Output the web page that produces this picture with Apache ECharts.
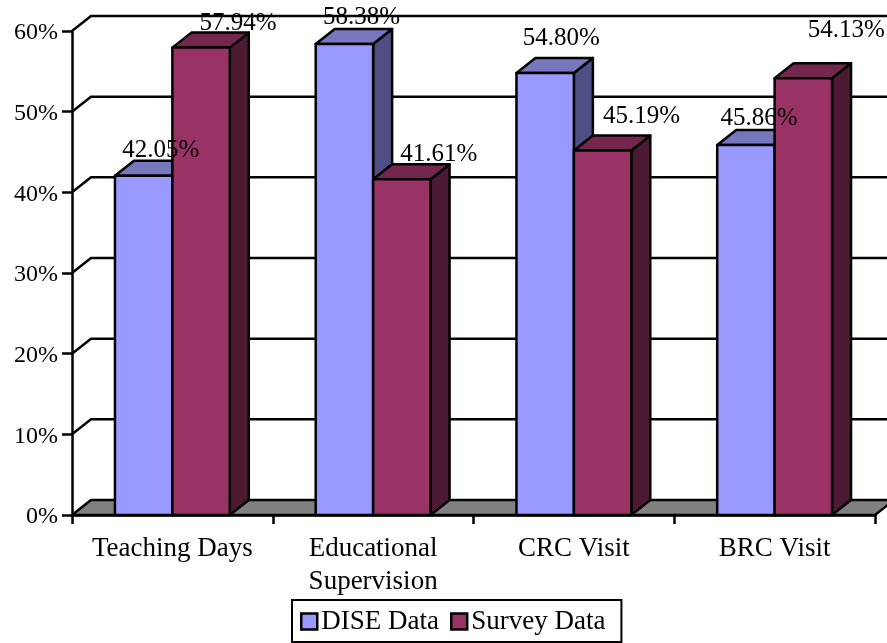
<!DOCTYPE html>
<html lang="en">
<head>
    <meta charset="UTF-8">
    <script src="https://cdn.jsdelivr.net/npm/echarts@6/dist/echarts.min.js"></script>
    <style>
        html, body { margin: 0; padding: 0; background: #fff; }
        #chart { width: 887px; height: 643px; }
    </style>
</head>
<body>
<div id="chart"></div>
<script>
    var categories = ['Teaching Days', 'Educational\nSupervision', 'CRC Visit', 'BRC Visit'];
    var diseData = [42.05, 58.38, 54.80, 45.86];
    var surveyData = [57.94, 41.61, 45.19, 54.13];
    var yTicks = [0, 10, 20, 30, 40, 50, 60];

    // label position relative to the bar's front top centre, as placed in the picture
    var diseNudge = [[17, -25], [17, -27], [16, -35], [13, -27]];
    var surveyNudge = [[37, -24], [37, -25], [39, -34], [43, -48]];

    var FONT = '"Liberation Serif", serif';
    var DX = 19, DY = 15; // depth of the 3d box
    var BAR = 0.286; // bar width as part of the category band
    var LW = 2.5;

    var myChart = echarts.init(document.getElementById('chart'), null, {renderer: 'canvas'});

    function pts(list, fill) {
        return {
            type: 'polygon',
            shape: {points: list},
            style: {fill: fill, stroke: '#000', lineWidth: LW, lineJoin: 'round'}
        };
    }

    // back wall line + the short diagonal to the left axis
    function renderWall(params, api) {
        var cs = params.coordSys;
        var y = api.coord([0, api.value(1)])[1];
        return {
            type: 'polyline',
            shape: {points: [[cs.x, y], [cs.x + DX, y - DY], [cs.x + cs.width + DX, y - DY]]},
            style: {fill: null, stroke: '#000', lineWidth: LW}
        };
    }

    function renderFloor(params, api) {
        var cs = params.coordSys;
        var y = api.coord([0, 0])[1];
        return pts([[cs.x, y], [cs.x + DX, y - DY], [cs.x + cs.width + DX, y - DY], [cs.x + cs.width, y]], '#808080');
    }

    function barLeft(side, api) {
        var p = api.coord([api.value(0), api.value(1)]);
        var w = api.size([1, 0])[0] * BAR;
        return {x: side < 0 ? p[0] - w : p[0], y: p[1], w: w};
    }

    function makeBar(side, front, top, dark) {
        return function (params, api) {
            var b = barLeft(side, api);
            var y0 = api.coord([api.value(0), 0])[1];
            var x = b.x, y = b.y, w = b.w;
            return {
                type: 'group',
                children: [
                    pts([[x + w, y], [x + w + DX, y - DY], [x + w + DX, y0 - DY], [x + w, y0]], dark),
                    pts([[x, y], [x + DX, y - DY], [x + w + DX, y - DY], [x + w, y]], top),
                    pts([[x, y], [x + w, y], [x + w, y0], [x, y0]], front)
                ]
            };
        };
    }

    // value labels sit in their own series, above every bar
    function makeLabel(side, nudge) {
        return function (params, api) {
            var b = barLeft(side, api);
            var n = nudge[params.dataIndex];
            return {
                type: 'text',
                style: {
                    text: api.value(1).toFixed(2) + '%',
                    x: b.x + b.w / 2 + n[0],
                    y: b.y + n[1],
                    fill: '#000',
                    font: '25px ' + FONT,
                    textAlign: 'center',
                    textVerticalAlign: 'middle'
                }
            };
        };
    }

    function pairs(values) {
        return values.map(function (v, i) { return [i, v]; });
    }

    var option = {
        animation: false,
        backgroundColor: '#fff',
        grid: {left: 72, right: 12, top: 31, bottom: 128},
        legend: {
            data: ['DISE Data', 'Survey Data'],
            left: 292,
            top: 600,
            orient: 'horizontal',
            icon: 'rect',
            itemWidth: 16,
            itemHeight: 16,
            itemGap: 11,
            padding: [8, 16, 7, 8],
            borderColor: '#000',
            borderWidth: 2,
            backgroundColor: '#fff',
            itemStyle: {borderColor: '#000', borderWidth: 2.5},
            textStyle: {color: '#000', fontFamily: FONT, fontSize: 27, padding: [0, 0, 0, -1]}
        },
        xAxis: {
            type: 'category',
            data: categories,
            axisLine: {lineStyle: {color: '#000', width: LW}},
            axisTick: {show: true, length: 9, lineStyle: {color: '#000', width: LW}},
            axisLabel: {color: '#000', fontFamily: FONT, fontSize: 27, lineHeight: 33, margin: 17, interval: 0}
        },
        yAxis: {
            type: 'value',
            min: 0,
            max: 60,
            interval: 10,
            splitLine: {show: false},
            axisLine: {show: true, lineStyle: {color: '#000', width: LW}},
            axisTick: {show: true, length: 10, lineStyle: {color: '#000', width: LW}},
            axisLabel: {
                margin: 14,
                formatter: '{v|{value}%}',
                rich: {v: {color: '#000', fontFamily: FONT, fontSize: 24, padding: [4, 0, 0, 0]}}
            }
        },
        series: [
            {name: 'wall', type: 'custom', z: 1, silent: true, data: pairs(yTicks.slice(1)).map(function (d) { return [0, d[1]]; }), renderItem: renderWall},
            {name: 'floor', type: 'custom', z: 1, silent: true, data: [[0, 0]], renderItem: renderFloor},
            {
                name: 'DISE Data', type: 'custom', z: 2,
                itemStyle: {color: '#9999ff'},
                data: pairs(diseData),
                renderItem: makeBar(-1, '#9999ff', '#7777bd', '#4f4f85')
            },
            {
                name: 'Survey Data', type: 'custom', z: 3,
                itemStyle: {color: '#993366'},
                data: pairs(surveyData),
                renderItem: makeBar(1, '#993366', '#73274d', '#4d1a33')
            },
            {name: 'diseLabels', type: 'custom', z: 10, silent: true, data: pairs(diseData), renderItem: makeLabel(-1, diseNudge)},
            {name: 'surveyLabels', type: 'custom', z: 10, silent: true, data: pairs(surveyData), renderItem: makeLabel(1, surveyNudge)}
        ]
    };
    myChart.setOption(option);
</script>
</body>
</html>
